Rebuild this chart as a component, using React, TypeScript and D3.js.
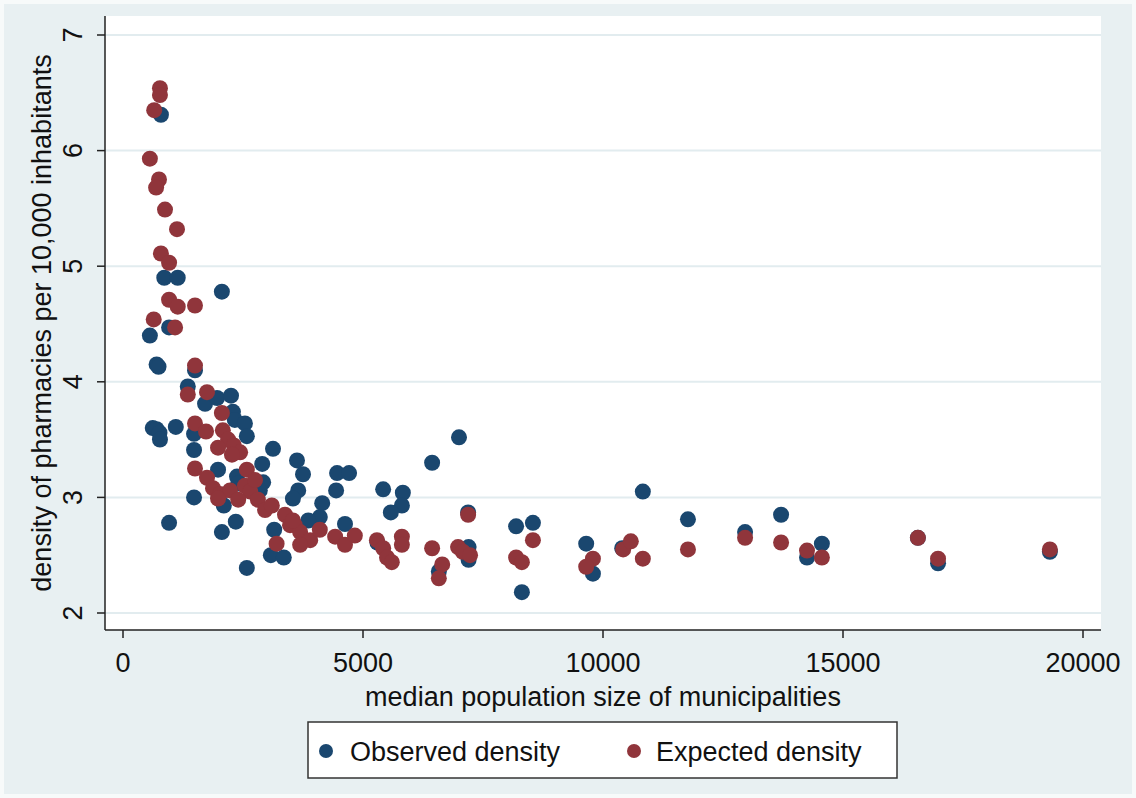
import React from "react";
import * as d3 from "d3";

// ---------- data ----------
const xTicks = [0, 5000, 10000, 15000, 20000];
const yTicks = [2, 3, 4, 5, 6, 7];
const xTitle = "median population size of municipalities";
const yTitle = "density of pharmacies per 10,000 inhabitants";
const seriesNames = ["Observed density", "Expected density"];

// [median population size, density]
const observed: [number, number][] = [
  [790, 6.31], [860, 4.9], [1140, 4.9], [2060, 4.78], [960, 4.47], [560, 4.4],
  [700, 4.15], [740, 4.13], [1500, 4.1], [1350, 3.96], [1710, 3.81], [1960, 3.86],
  [2250, 3.88], [2290, 3.74], [2330, 3.67], [2540, 3.64], [2580, 3.53],
  [620, 3.6], [700, 3.59], [760, 3.56], [770, 3.5], [1100, 3.61],
  [1480, 3.55], [1480, 3.41], [3125, 3.42], [3625, 3.32], [2900, 3.29],
  [1980, 3.24], [2375, 3.18], [2920, 3.13], [2400, 3.12], [1480, 3.0], [2100, 2.93],
  [2850, 3.06], [3650, 3.06], [3540, 2.99], [960, 2.78], [2060, 2.7], [2350, 2.79],
  [3150, 2.72], [3080, 2.5], [3350, 2.48], [2580, 2.39], [3750, 3.2], [4460, 3.21],
  [4710, 3.21], [4440, 3.06], [5420, 3.07], [5830, 3.04], [5810, 2.93], [5580, 2.87],
  [4150, 2.95], [4100, 2.83], [3860, 2.8], [4625, 2.77], [7190, 2.87], [7000, 3.52],
  [6440, 3.3], [5300, 2.61], [6580, 2.36], [7200, 2.57], [7200, 2.46],
  [10830, 3.05], [8190, 2.75], [8540, 2.78], [8310, 2.18], [9650, 2.6], [9790, 2.34],
  [10400, 2.56], [11770, 2.81], [12960, 2.7], [13710, 2.85], [14250, 2.48],
  [14560, 2.6], [16560, 2.65], [16980, 2.43], [19310, 2.53],
];

const expected: [number, number][] = [
  [770, 6.54], [770, 6.48], [650, 6.35], [560, 5.93], [750, 5.75], [690, 5.68],
  [875, 5.49], [1125, 5.32], [790, 5.11], [960, 5.03], [960, 4.71], [1140, 4.65],
  [1500, 4.66], [640, 4.54], [1085, 4.47], [1500, 4.14], [1350, 3.89], [1750, 3.91],
  [2060, 3.73], [1500, 3.64], [1730, 3.57], [2080, 3.58], [2190, 3.5], [2310, 3.45],
  [2440, 3.39], [1980, 3.43], [2270, 3.37], [1500, 3.25], [2580, 3.24],
  [1750, 3.17], [1875, 3.08], [2020, 3.03], [2230, 3.06], [2540, 3.1], [2650, 3.05],
  [1980, 2.99], [2400, 2.98], [2750, 3.15], [2810, 2.98], [2960, 2.89], [3100, 2.93],
  [3200, 2.6], [3375, 2.85], [3580, 2.76], [3480, 2.76], [3690, 2.7], [3900, 2.63],
  [4100, 2.72], [4420, 2.66], [4625, 2.59], [4830, 2.67], [3690, 2.59], [3540, 2.8],
  [5290, 2.63], [5420, 2.56], [5500, 2.48], [5600, 2.44], [5810, 2.66], [5810, 2.59],
  [6440, 2.56], [6650, 2.42], [6580, 2.3], [6980, 2.57], [7080, 2.53], [7230, 2.5],
  [7190, 2.85], [8540, 2.63], [8190, 2.48], [8310, 2.44], [9790, 2.47], [9650, 2.4],
  [10420, 2.55], [10580, 2.62], [10830, 2.47], [11770, 2.55], [12960, 2.65],
  [13710, 2.61], [14250, 2.54], [14560, 2.48], [16560, 2.65], [16980, 2.47],
  [19310, 2.55],
];

// ---------- styling ----------
const W = 1136;
const H = 798;
const BLUE = "#1a476f";
const RED = "#90353b";
const FONT = "'Liberation Sans', Arial, Helvetica, sans-serif";
const FS = 27;
const plot = { left: 105, right: 1101, top: 16, bottom: 630 };

export default function App() {
  const x = d3.scaleLinear().domain([0, 20000]).range([123, 1083]);
  const y = d3.scaleLinear().domain([2, 7]).range([613, 35]);
  const r = 8;

  return (
    <svg
      width={W}
      height={H}
      style={{ position: "absolute", left: 0, top: 0 }}
      fontFamily={FONT}
    >
      <rect x={0} y={0} width={W} height={H} fill="#f7fafa" />
      <rect x={4} y={4} width={W - 8} height={H - 8} fill="#e8f0f2" />
      <rect
        x={plot.left}
        y={plot.top}
        width={plot.right - plot.left}
        height={plot.bottom - plot.top}
        fill="#ffffff"
      />
      {yTicks.map((t) => (
        <line
          key={"g" + t}
          x1={plot.left}
          x2={plot.right}
          y1={y(t)}
          y2={y(t)}
          stroke="#e2ecef"
          strokeWidth={2}
        />
      ))}
      {observed.map((d, i) => (
        <circle key={"o" + i} cx={x(d[0])} cy={y(d[1])} r={r} fill={BLUE} />
      ))}
      {expected.map((d, i) => (
        <circle key={"e" + i} cx={x(d[0])} cy={y(d[1])} r={r} fill={RED} />
      ))}
      {/* axes */}
      <line x1={plot.left} x2={plot.left} y1={plot.top} y2={plot.bottom} stroke="#222" strokeWidth={1.5} />
      <line x1={plot.left} x2={plot.right} y1={plot.bottom} y2={plot.bottom} stroke="#222" strokeWidth={1.5} />
      {yTicks.map((t) => (
        <g key={"yt" + t}>
          <line x1={plot.left - 8} x2={plot.left} y1={y(t)} y2={y(t)} stroke="#222" strokeWidth={1.5} />
          <text
            transform={`translate(82,${y(t)}) rotate(-90)`}
            textAnchor="middle"
            fontSize={FS}
            fill="#111"
          >
            {t}
          </text>
        </g>
      ))}
      {xTicks.map((t) => (
        <g key={"xt" + t}>
          <line x1={x(t)} x2={x(t)} y1={plot.bottom} y2={plot.bottom + 8} stroke="#222" strokeWidth={1.5} />
          <text x={x(t)} y={672} textAnchor="middle" fontSize={FS} fill="#111">
            {t}
          </text>
        </g>
      ))}
      <text x={(plot.left + plot.right) / 2} y={706} textAnchor="middle" fontSize={FS} fill="#111">
        {xTitle}
      </text>
      <text
        transform={`translate(51,${(plot.top + plot.bottom) / 2}) rotate(-90)`}
        textAnchor="middle"
        fontSize={FS}
        fill="#111"
      >
        {yTitle}
      </text>
      {/* legend */}
      <rect x={308} y={722} width={589} height={56} fill="#ffffff" stroke="#333" strokeWidth={1.5} />
      <circle cx={326} cy={751} r={7} fill={BLUE} />
      <text x={350} y={761} fontSize={FS} fill="#111">{seriesNames[0]}</text>
      <circle cx={634} cy={751} r={7} fill={RED} />
      <text x={656} y={761} fontSize={FS} fill="#111">{seriesNames[1]}</text>
    </svg>
  );
}
